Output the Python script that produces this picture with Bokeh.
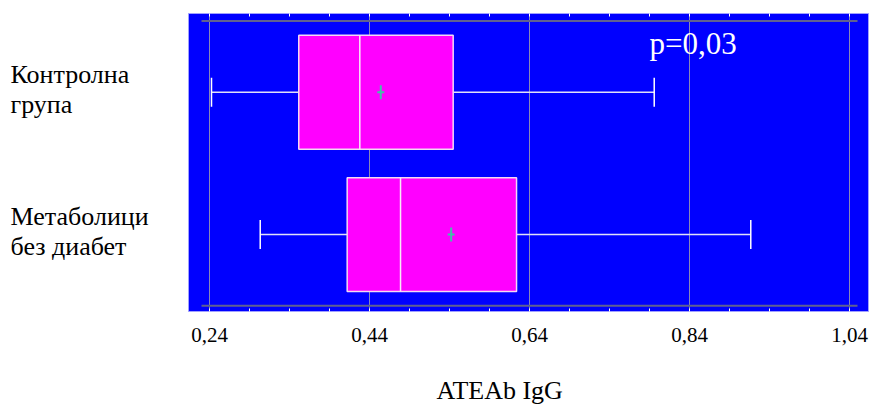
from math import pi
from bokeh.plotting import figure
from bokeh.layouts import row, column
from bokeh.core.properties import value
from bokeh.models import Range1d, FixedTicker, LinearAxis, Label, ColumnDataSource
from bokeh.embed import file_html
from bokeh.resources import INLINE

# ---- data ----
categories = ["Контролна група", "Метаболици без диабет"]
label_line1 = ["Контролна", "Метаболици"]
label_line2 = ["група", "без диабет"]
y_pos = [2, 1]
mins = [0.2425, 0.3034]
q1s = [0.3516, 0.4121]
medians = [0.4279, 0.4788]
q3s = [0.5446, 0.6238]
maxs = [0.7959, 0.9166]
means = [0.4541, 0.5421]
major_ticks = [0.24, 0.44, 0.64, 0.84, 1.04]
tick_labels = ["0,24", "0,44", "0,64", "0,84", "1,04"]
minor_ticks = [0.29, 0.34, 0.39, 0.49, 0.54, 0.59, 0.69, 0.74, 0.79, 0.89, 0.94, 0.99]
x_title = "ATEAb IgG"
p_text = "p=0,03"

FONT = "'Liberation Serif', 'DejaVu Serif', serif"
W = 877
H_MAIN = 367
H_TITLE = 40
TOP = 13
BOTTOM = 56
LEFT_W = 188

y_range = Range1d(0.46, 2.553)

# ---- left panel with category labels ----
lp = figure(width=LEFT_W, height=H_MAIN, x_range=Range1d(0, LEFT_W), y_range=y_range,
            output_backend="svg", toolbar_location=None,
            x_axis_location=None, y_axis_location=None,
            min_border_left=0, min_border_right=0, min_border_top=TOP, min_border_bottom=BOTTOM,
            background_fill_color=None, border_fill_color="white", outline_line_color=None)
lp.grid.visible = False
lsrc = ColumnDataSource(dict(x=[10, 10], y=y_pos, l1=label_line1, l2=label_line2))
lp.text(x="x", y="y", text="l1", source=lsrc, y_offset=-18, text_font=value(FONT),
        text_font_size="26px", text_color="black", text_baseline="alphabetic")
lp.text(x="x", y="y", text="l2", source=lsrc, y_offset=12, text_font=value(FONT),
        text_font_size="26px", text_color="black", text_baseline="alphabetic")

# ---- main plot ----
p = figure(width=W - LEFT_W, height=H_MAIN,
           x_range=Range1d(0.21375, 1.06375), y_range=y_range,
           output_backend="svg", toolbar_location=None, y_axis_location=None,
           min_border_left=0, min_border_right=9, min_border_top=TOP, min_border_bottom=BOTTOM,
           background_fill_color="#0000ff", border_fill_color="white",
           outline_line_color="#a0a0ff", outline_line_width=1)

ticker = FixedTicker(ticks=major_ticks, minor_ticks=minor_ticks)
ax = p.xaxis[0]
ax.ticker = ticker
ax.major_label_overrides = {t: l for t, l in zip(major_ticks, tick_labels)}
ax.major_label_text_font = FONT
ax.major_label_text_font_size = "21px"
ax.major_label_text_color = "black"
ax.major_label_standoff = 16
ax.axis_line_color = None
ax.major_tick_in = 3
ax.major_tick_out = 0
ax.minor_tick_in = 3
ax.minor_tick_out = 0
ax.major_tick_line_color = "white"
ax.minor_tick_line_color = "white"

top_ax = LinearAxis(ticker=ticker, major_label_text_font_size="0px", axis_line_color=None,
                    major_tick_out=0, major_tick_in=3, minor_tick_in=3, minor_tick_out=0,
                    major_label_standoff=0, major_tick_line_color="white",
                    minor_tick_line_color="white")
top_ax.major_label_overrides = {t: "" for t in major_ticks}
p.add_layout(top_ax, "above")

p.xgrid.ticker = ticker
p.xgrid.grid_line_color = "#8888b8"
p.xgrid.grid_line_width = 1
p.ygrid.visible = False

# inner horizontal reference lines
p.segment(x0=[major_ticks[0] - 0.01] * 2, x1=[major_ticks[-1] + 0.01] * 2,
          y0=[min(y_pos) - 0.5, max(y_pos) + 0.5], y1=[min(y_pos) - 0.5, max(y_pos) + 0.5],
          line_color="#606090", line_width=2)

src = ColumnDataSource(dict(y=y_pos, lo=mins, q1=q1s, med=medians, q3=q3s, hi=maxs, mean=means))

# whiskers
p.segment(x0="lo", y0="y", x1="q1", y1="y", source=src, line_color="#e0e0f8", line_width=1.5)
p.segment(x0="q3", y0="y", x1="hi", y1="y", source=src, line_color="#e0e0f8", line_width=1.5)
p.scatter(x="lo", y="y", source=src, marker="dash", angle=pi / 2, size=29,
          line_color="white", line_width=1.5)
p.scatter(x="hi", y="y", source=src, marker="dash", angle=pi / 2, size=29,
          line_color="white", line_width=1.5)

# boxes
p.hbar(y="y", left="q1", right="q3", height=0.8, source=src,
       fill_color="#ff00ff", line_color="#f4d8f4", line_width=1.5)
p.scatter(x="med", y="y", source=src, marker="dash", angle=pi / 2, size=114,
          line_color="#f8e8f8", line_width=1.5)

# means
p.scatter(x="mean", y="y", source=src, marker="dash", size=7,
          line_color="#40c0a8", line_width=2)
p.scatter(x="mean", y="y", source=src, marker="dash", angle=pi / 2, size=14,
          line_color="#40c0a8", line_width=2)

# annotation
p.add_layout(Label(x=0.79, y=2.345, text=p_text, text_font=FONT, text_font_size="31px",
                   text_color="white", text_baseline="alphabetic"))

# ---- x-axis title strip ----
tp = figure(width=W, height=H_TITLE, x_range=Range1d(0, W), y_range=Range1d(0, H_TITLE),
            output_backend="svg", toolbar_location=None,
            x_axis_location=None, y_axis_location=None,
            min_border_left=0, min_border_right=0, min_border_top=0, min_border_bottom=0,
            background_fill_color=None, border_fill_color="white", outline_line_color=None)
tp.grid.visible = False
tp.text(x=[436], y=[17], text=[x_title], text_font=value(FONT), text_font_size="26px",
        text_color="black", text_align="left", text_baseline="middle")

layout = column(row(lp, p, spacing=0), tp, spacing=0)
open("out.html", "w").write(file_html(layout, INLINE))
